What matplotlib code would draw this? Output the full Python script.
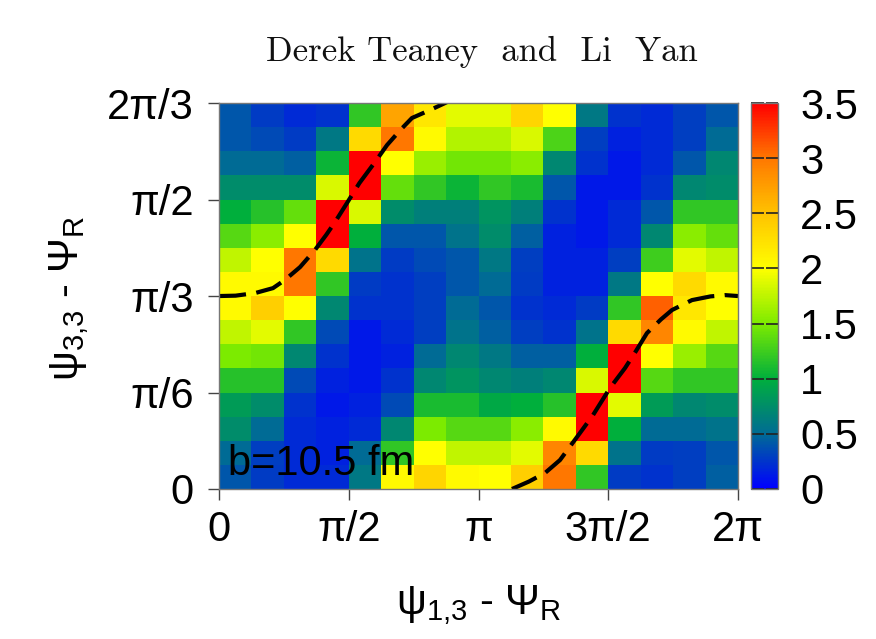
import numpy as np
import matplotlib
matplotlib.use("Agg")
import matplotlib.pyplot as plt
from matplotlib.colors import LinearSegmentedColormap

plt.rcParams['font.family'] = ['Liberation Sans', 'DejaVu Sans']
plt.rcParams['mathtext.fontset'] = 'custom'
plt.rcParams['mathtext.rm'] = 'Liberation Sans'
plt.rcParams['mathtext.it'] = 'Liberation Sans:italic'

# --- data: 16x16 histogram, rows listed from top (2pi/3) to bottom (0) ---
rows_top_to_bottom = [
    [0.40, 0.28, 0.20, 0.24, 1.20, 2.70, 2.20, 1.90, 1.90, 2.35, 2.00, 0.60, 0.24, 0.20, 0.30, 0.40],
    [0.40, 0.35, 0.28, 0.60, 2.30, 3.00, 2.05, 1.70, 1.70, 1.85, 1.30, 0.30, 0.16, 0.20, 0.30, 0.50],
    [0.50, 0.50, 0.45, 1.05, 3.50, 2.00, 1.60, 1.45, 1.45, 1.55, 0.70, 0.24, 0.12, 0.20, 0.40, 0.70],
    [0.75, 0.75, 0.75, 1.85, 3.50, 1.40, 1.20, 1.05, 1.20, 1.10, 0.40, 0.12, 0.12, 0.24, 0.70, 0.75],
    [1.00, 1.15, 1.40, 3.50, 1.85, 0.75, 0.65, 0.65, 0.80, 0.65, 0.24, 0.12, 0.20, 0.40, 1.20, 1.20],
    [1.35, 1.55, 2.00, 3.50, 1.00, 0.40, 0.40, 0.55, 0.75, 0.45, 0.16, 0.12, 0.20, 0.70, 1.55, 1.40],
    [1.75, 2.00, 3.00, 2.30, 0.55, 0.28, 0.35, 0.40, 0.60, 0.30, 0.16, 0.16, 0.30, 1.25, 1.90, 1.75],
    [2.05, 2.05, 3.00, 1.20, 0.28, 0.24, 0.30, 0.40, 0.50, 0.28, 0.16, 0.16, 0.60, 2.00, 2.30, 2.05],
    [2.05, 2.40, 2.00, 0.70, 0.24, 0.24, 0.30, 0.50, 0.40, 0.24, 0.20, 0.28, 1.20, 3.10, 2.20, 2.00],
    [1.75, 1.90, 1.20, 0.35, 0.12, 0.20, 0.30, 0.55, 0.45, 0.30, 0.24, 0.55, 2.30, 2.90, 2.05, 1.75],
    [1.50, 1.45, 0.70, 0.24, 0.12, 0.16, 0.50, 0.70, 0.60, 0.45, 0.45, 1.00, 3.50, 2.00, 1.60, 1.35],
    [1.15, 1.15, 0.35, 0.16, 0.12, 0.24, 0.70, 0.80, 0.70, 0.65, 0.70, 1.85, 3.50, 1.35, 1.20, 1.20],
    [0.85, 0.75, 0.24, 0.12, 0.16, 0.35, 1.10, 1.10, 0.95, 1.00, 1.15, 3.50, 1.90, 0.85, 0.70, 0.75],
    [0.75, 0.50, 0.20, 0.16, 0.20, 0.70, 1.50, 1.35, 1.35, 1.55, 2.05, 3.50, 1.00, 0.50, 0.50, 0.55],
    [0.50, 0.30, 0.20, 0.16, 0.50, 1.20, 2.00, 1.75, 1.75, 1.90, 2.90, 2.30, 0.55, 0.28, 0.30, 0.40],
    [0.40, 0.28, 0.20, 0.20, 0.60, 2.05, 2.35, 2.05, 2.00, 2.40, 3.00, 1.20, 0.28, 0.24, 0.30, 0.45],
]
n_x, n_y = 16, 16

# dashed curve (two branches)
curve1_x = [0.0, 0.20, 0.436, 0.654, 0.80, 0.981, 1.162, 1.30, 1.404, 1.550, 1.70, 1.889, 2.034, 2.20, 2.336, 2.554, 2.736, 2.90]
curve1_y = [1.047, 1.049, 1.063, 1.090, 1.135, 1.204, 1.297, 1.380, 1.448, 1.552, 1.660, 1.774, 1.866, 1.950, 2.013, 2.056, 2.094, 2.13]
curve2_x = [3.547, 3.75, 3.947, 4.128, 4.370, 4.528, 4.733, 4.915, 5.05, 5.181, 5.35, 5.484, 5.726, 5.95, 6.126, 6.283]
curve2_y = [0.0, 0.040, 0.087, 0.157, 0.304, 0.401, 0.548, 0.656, 0.750, 0.846, 0.920, 0.971, 1.025, 1.045, 1.052, 1.047]

x_ticks = [0, np.pi / 2, np.pi, 3 * np.pi / 2, 2 * np.pi]
x_ticklabels = ['0', 'π/2', 'π', '3π/2', '2π']
y_ticks = [0, np.pi / 6, np.pi / 3, np.pi / 2, 2 * np.pi / 3]
y_ticklabels = ['0', 'π/6', 'π/3', 'π/2', '2π/3']
cbar_ticks = [0, 0.5, 1, 1.5, 2, 2.5, 3, 3.5]
cbar_ticklabels = ['0', '0.5', '1', '1.5', '2', '2.5', '3', '3.5']

# colour map: blue -> teal -> green -> yellow -> orange -> red
cmap_nodes = [
    (0.0 / 3.5, (0 / 255, 0 / 255, 255 / 255)),
    (0.5 / 3.5, (0 / 255, 108 / 255, 148 / 255)),
    (1.0 / 3.5, (0 / 255, 175 / 255, 60 / 255)),
    (1.5 / 3.5, (125 / 255, 235 / 255, 0 / 255)),
    (2.0 / 3.5, (255 / 255, 255 / 255, 0 / 255)),
    (2.5 / 3.5, (255 / 255, 195 / 255, 0 / 255)),
    (3.0 / 3.5, (255 / 255, 120 / 255, 0 / 255)),
    (3.5 / 3.5, (255 / 255, 0 / 255, 0 / 255)),
]
cmap = LinearSegmentedColormap.from_list('bgyr', cmap_nodes)

Z = np.array(rows_top_to_bottom)[::-1]
x_edges = np.linspace(0, 2 * np.pi, n_x + 1)
y_edges = np.linspace(0, 2 * np.pi / 3, n_y + 1)

fig = plt.figure(figsize=(8.76, 6.39), dpi=100)
ax = fig.add_axes([219 / 876, 1 - 489 / 639, 519 / 876, 386 / 639])
cax = fig.add_axes([751 / 876, 1 - 489 / 639, 27 / 876, 386 / 639])

mesh = ax.pcolormesh(x_edges, y_edges, Z, cmap=cmap, vmin=0, vmax=3.5, shading='flat')
ax.plot(curve1_x, curve1_y, color='black', lw=3.0, dashes=(6.5, 2.5), solid_capstyle='butt')
ax.plot(curve2_x, curve2_y, color='black', lw=3.0, dashes=(6.5, 2.5), solid_capstyle='butt')
ax.set_xlim(0, 2 * np.pi)
ax.set_ylim(0, 2 * np.pi / 3)

ax.set_xticks(x_ticks)
ax.set_xticklabels(x_ticklabels)
ax.set_yticks(y_ticks)
ax.set_yticklabels(y_ticklabels)
ax.tick_params(axis='both', direction='out', length=8, width=1, color='#444444', labelsize=30)
ax.tick_params(axis='x', pad=7)
ax.tick_params(axis='y', pad=10)
for sp in ax.spines.values():
    sp.set_color('#777777')
    sp.set_linewidth(1)

ax.text(9 / 519, 14 / 386, 'b=10.5 fm', transform=ax.transAxes, fontsize=30,
        ha='left', va='baseline', color='black')

cb = fig.colorbar(mesh, cax=cax)
cb.set_ticks(cbar_ticks)
cb.set_ticklabels(cbar_ticklabels)
cb.outline.set_edgecolor('#777777')
cb.outline.set_linewidth(1)
cax.tick_params(direction='in', length=9, width=1.2, color='#222222', left=True, right=True,
                labelsize=30, pad=16)

fig.text(479 / 876, 1 - 605 / 639, 'ψ$_{1{,}3}$ - Ψ$_{\\mathrm{R}}$', fontsize=30,
         ha='center', va='center')
fig.text(69 / 876, 1 - 298 / 639, 'ψ$_{3{,}3}$ - Ψ$_{\\mathrm{R}}$', fontsize=30,
         ha='center', va='center', rotation=90)
fig.text(482 / 876, 1 - 52 / 639, 'Derek Teaney  and  Li  Yan', fontsize=25,
         family='cmr10', ha='center', va='center', color='#111111')

fig.savefig('out.png', dpi=100)
